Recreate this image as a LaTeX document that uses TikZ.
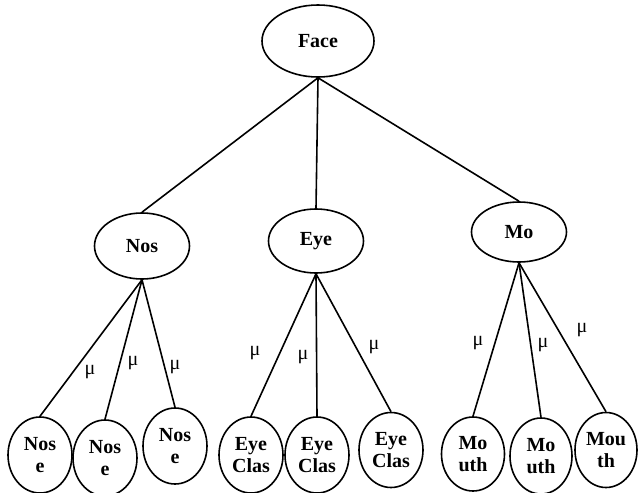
\documentclass[tikz,border=0pt]{standalone}
\usepackage{fontspec}
\setmainfont{Liberation Serif}
\usetikzlibrary{shapes.geometric}

\begin{document}
\begin{tikzpicture}[x=1pt,y=-1pt]
        \tikzstyle{part}=[ellipse,draw=black,line width=1.6pt,inner sep=0pt,minimum width=95pt,minimum height=64pt,font=\fontsize{20}{22}\selectfont\bfseries]
        \tikzstyle{leaf}=[ellipse,draw=black,line width=1.6pt,inner sep=0pt,minimum width=64pt,minimum height=76pt,align=center,font=\fontsize{20}{22}\selectfont\bfseries]
        \tikzstyle{mu}=[font=\fontsize{20}{20}\selectfont]
        \tikzstyle{edge}=[draw,line width=1.6pt]
        \useasboundingbox (0,0) rectangle (638,493);
       \begin{scope}
         % top of the tree
         \node [part,minimum width=112pt,minimum height=72pt] (face) at (318,41) {Face};
         \node [part,minimum height=66pt] (nos) at (142,246) {Nos};
         \node [part] (eye) at (316,241) {Eye};
         \node [part,minimum height=60pt] (mo) at (519,232) {Mo};
         \path[edge] (face.south) -- (nos.north);
         \path[edge] (face.south) -- (eye.north);
         \path[edge] (face.south) -- (mo.north);

         % leaves
         \node [leaf] (nose1) at (40,455) {Nos\\e};
         \node [leaf] (nose2) at (105,458) {Nos\\e};
         \node [leaf] (nose3) at (175,446) {Nos\\e};
         \node [leaf] (eye1) at (251,455) {Eye\\Clas};
         \node [leaf] (eye2) at (317,455) {Eye\\Clas};
         \node [leaf,minimum height=75pt] (eye3) at (391,450) {Eye\\Clas};
         \node [leaf,minimum width=63pt,minimum height=74pt] (mouth1) at (473,454) {Mo\\uth};
         \node [leaf,minimum width=62pt] (mouth2) at (541,456) {Mo\\uth};
         \node [leaf,minimum width=62pt,minimum height=75pt] (mouth3) at (606,450) {Mou\\th};

         \path[edge] (nos.south) -- (nose1.north);
         \path[edge] (nos.south) -- (nose2.north);
         \path[edge] (nos.south) -- (nose3.north);
         \path[edge] (eye.south) -- (eye1.north);
         \path[edge] (eye.south) -- (eye2.north);
         \path[edge] (eye.south) -- (eye3.north);
         \path[edge] (mo.south) -- (mouth1.north);
         \path[edge] (mo.south) -- (mouth2.north);
         \path[edge] (mo.south) -- (mouth3.north);

         % mu labels
         \node [mu] (mun1) at (90,372) {μ};
         \node [mu] (mun2) at (133,363) {μ};
         \node [mu] (mun3) at (175,367) {μ};
         \node [mu] (mue1) at (255,353) {μ};
         \node [mu] (mue2) at (303,357) {μ};
         \node [mu] (mue3) at (374,347) {μ};
         \node [mu] (mum1) at (478,343) {μ};
         \node [mu] (mum2) at (543,345) {μ};
         \node [mu] (mum3) at (582,330) {μ};
        \end{scope}
      \end{tikzpicture}
\end{document}
